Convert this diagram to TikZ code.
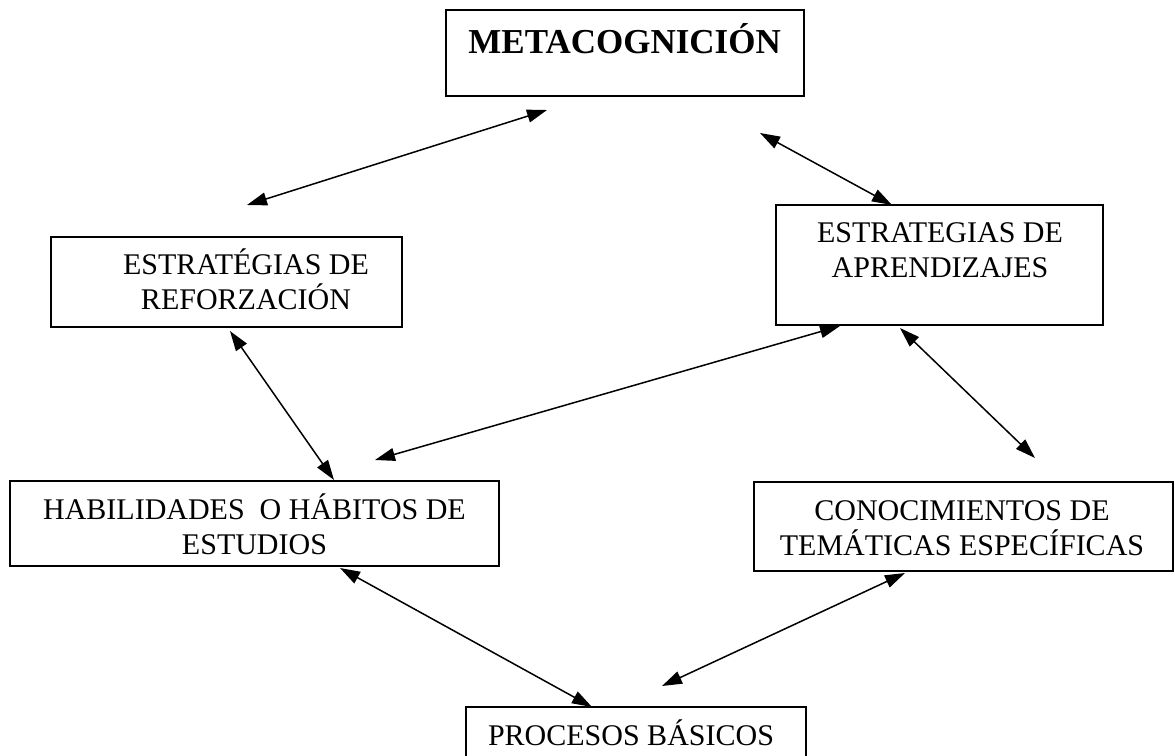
\documentclass[tikz,border=0pt]{standalone}
\usepackage{fontspec}
\setmainfont{Liberation Serif}
\usetikzlibrary{arrows.meta}
\tikzset{
caja/.style 2 args={draw=black, line width=1pt, inner sep=0pt, minimum width=#1, minimum height=#2},
texto/.style={align=center, inner sep=0pt, font=\fontsize{15pt}{17.5pt}\selectfont},
flecha/.style={line width=0.75pt, {Triangle[length=10pt,width=6.5pt]}-{Triangle[length=10pt,width=6.5pt]}}
}
\begin{document}
\begin{tikzpicture}[x=0.5pt,y=-0.5pt]
\useasboundingbox (0,0) rectangle (1175,756);
\clip (0,0) rectangle (1175,756);
\node[caja={179pt}{43pt}] (meta) at (625,53) {};
\node[caja={175.5pt}{45pt}] (reforz) at (226.5,282) {};
\node[caja={163.5pt}{60pt}] (aprend) at (939.5,265) {};
\node[caja={244.5pt}{42.5pt}] (habil) at (254.5,523.5) {};
\node[caja={209.5pt}{44.5pt}] (conoc) at (963.5,526.5) {};
\node[caja={170pt}{46.5pt}] (proc) at (636,753.5) {};
\node[texto, anchor=base west, font=\fontsize{17.5pt}{21pt}\selectfont\bfseries] (metatxt) at (468,53) {METACOGNICIÓN};
\node[texto] (reforztxt) at (246,279) {ESTRATÉGIAS DE\\REFORZACIÓN};
\node[texto] (aprendtxt) at (940,250.5) {ESTRATEGIAS DE\\APRENDIZAJES};
\node[texto] (habiltxt) at (254.5,524) {HABILIDADES\ \ O HÁBITOS DE\\ESTUDIOS};
\node[texto] (conoctxt) at (962,528.5) {CONOCIMIENTOS DE\\TEMÁTICAS ESPECÍFICAS};
\node[texto, anchor=base] (proctxt) at (631,745) {PROCESOS BÁSICOS};
\coordinate (metaizq) at (547,110);
\coordinate (reforzsup) at (247,205);
\coordinate (metader) at (760,133);
\coordinate (aprendsup) at (892,205);
\coordinate (reforzinf) at (230,331);
\coordinate (habilsup) at (334,480);
\coordinate (aprendinf) at (840,326);
\coordinate (habilder) at (375,460);
\coordinate (aprendder) at (900,328);
\coordinate (conocsup) at (1035,458);
\coordinate (habilinf) at (340,568);
\coordinate (procizq) at (592,707);
\coordinate (conocinf) at (905,573);
\coordinate (procder) at (662,686);
\draw[flecha] (reforzsup) -- (metaizq);
\draw[flecha] (metader) -- (aprendsup);
\draw[flecha] (reforzinf) -- (habilsup);
\draw[flecha] (aprendinf) -- (habilder);
\draw[flecha] (aprendder) -- (conocsup);
\draw[flecha] (habilinf) -- (procizq);
\draw[flecha] (conocinf) -- (procder);
\end{tikzpicture}
\end{document}
